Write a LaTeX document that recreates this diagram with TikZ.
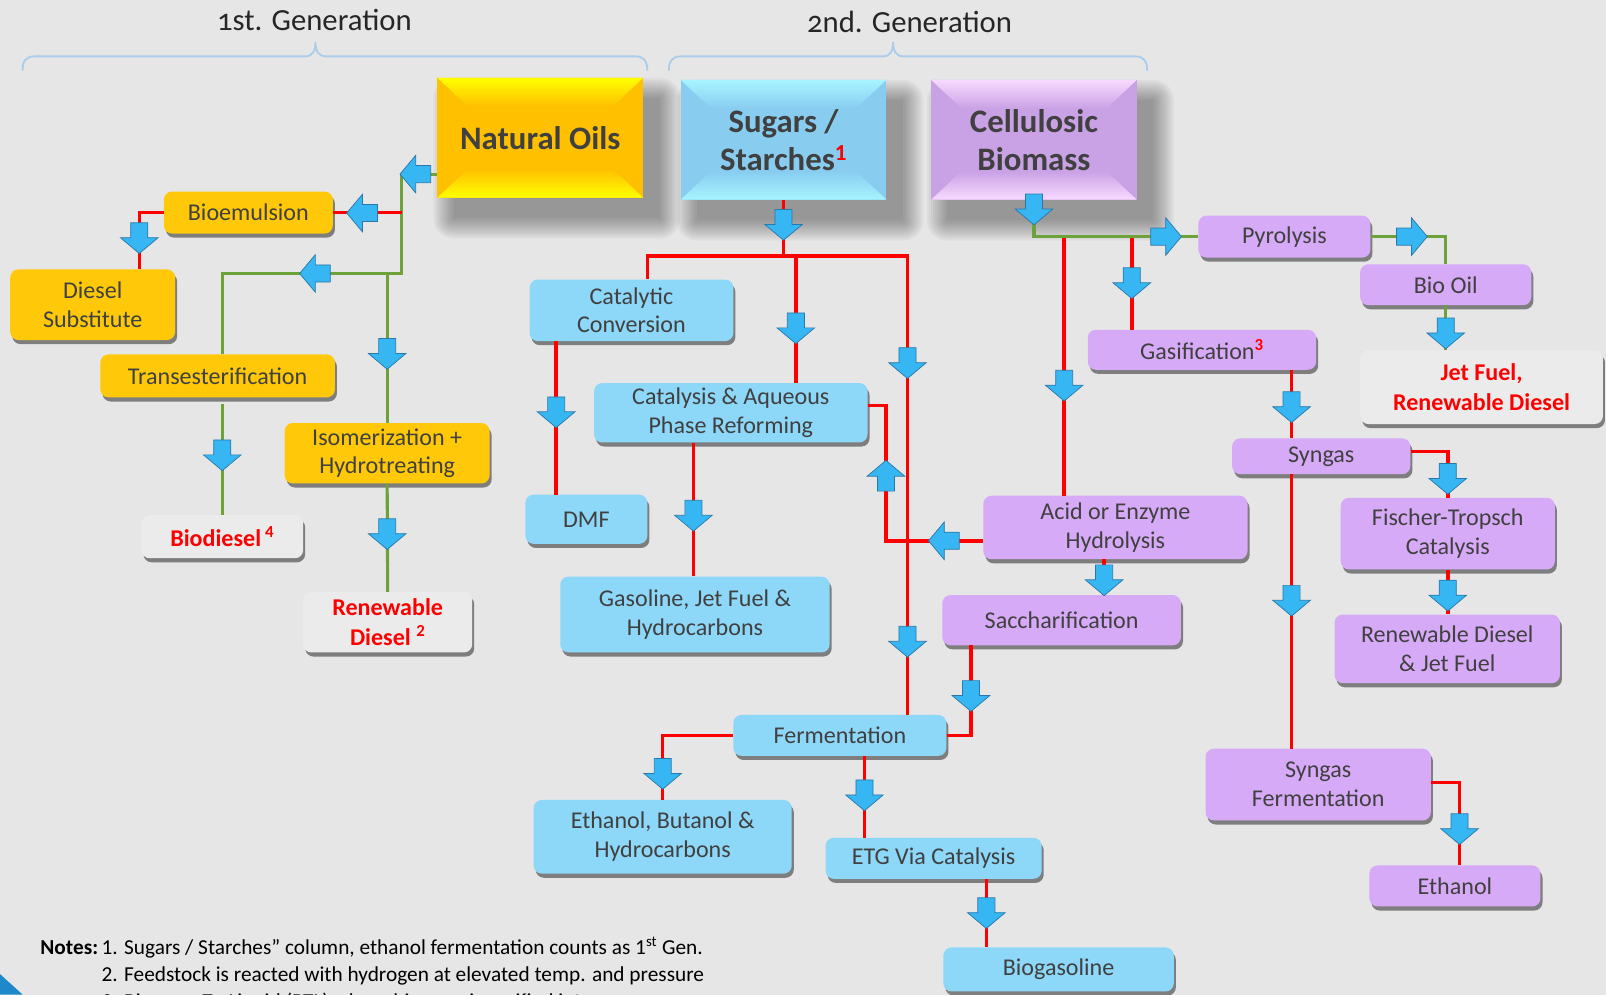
\documentclass[tikz,border=0pt]{standalone}
\usepackage{fontspec}
\setmainfont{Carlito}
\usetikzlibrary{shapes.arrows,shadows}

\definecolor{bgray}{HTML}{E6E6E6}
\definecolor{txtgray}{HTML}{404040}
\definecolor{oilyel}{HTML}{FFC90A}
\definecolor{sugblue}{HTML}{8DD7F8}
\definecolor{celpur}{HTML}{D6AAF7}
\definecolor{endgray}{HTML}{EBEBEB}
\definecolor{leafgreen}{HTML}{6DA13A}
\definecolor{arrblue}{HTML}{36B6F2}
\definecolor{arrdark}{HTML}{2A78A8}
\definecolor{bracecol}{HTML}{A9CDEB}
\definecolor{cornblue}{HTML}{1E88C8}
\definecolor{natmain}{HTML}{FFC000}
\definecolor{natlight}{HTML}{FFFF00}
\definecolor{sugmain}{HTML}{88CDF0}
\definecolor{suglight}{HTML}{A8F4FF}
\definecolor{celmain}{HTML}{C9A1E5}
\definecolor{cellight}{HTML}{F8DAFF}

\tikzset{
	sz/.style 2 args={minimum width=#1, minimum height=#2},
	box/.style={rounded corners=8pt, align=center, text=txtgray, inner sep=0pt,
		font=\fontsize{23.5}{28}\selectfont,
		drop shadow={shadow xshift=2pt, shadow yshift=-4pt, opacity=.45, fill=black}},
	oilbox/.style={box, fill=oilyel},
	sugbox/.style={box, fill=sugblue},
	celbox/.style={box, fill=celpur},
	endbox/.style={box, fill=endgray, text=red, font=\bfseries\fontsize{23.5}{30}\selectfont},
	bigbox/.style 2 args={inner sep=0pt, align=center, text=txtgray,
		font=\bfseries\fontsize{32}{37}\selectfont, minimum width=201, minimum height=117,
		fill=#2,
		path picture={
			\coordinate (pnw) at (path picture bounding box.north west);
			\coordinate (pne) at (path picture bounding box.north east);
			\coordinate (psw) at (path picture bounding box.south west);
			\coordinate (pse) at (path picture bounding box.south east);
			\fill[top color=#1, bottom color=#2] (pnw) -- (pne) -- ([xshift=-30pt,yshift=-28pt]pne) -- ([xshift=30pt,yshift=-28pt]pnw) -- cycle;
			\fill[top color=#2, bottom color=#1] (psw) -- ([xshift=30pt,yshift=28pt]psw) -- ([xshift=-30pt,yshift=28pt]pse) -- (pse) -- cycle;
		}},
	gen/.style={font=\fontsize{30}{34}\selectfont\addfontfeatures{Numbers=OldStyle}, text=black!85},
	note/.style={font=\fontsize{20.8}{24}\selectfont, text=black, inner sep=0pt},
	rline/.style={draw=red, line width=3.5pt},
	gline/.style={draw=leafgreen, line width=3pt},
	brace/.style={draw=bracecol, line width=1.8pt},
	arr/.style={single arrow, single arrow head extend=10pt, single arrow tip angle=100,
		single arrow head indent=0pt, inner xsep=0pt, inner ysep=8pt, minimum height=30pt,
		fill=arrblue, draw=arrdark, line width=.7pt},
	darr/.style={arr, rotate=-90},
	larr/.style={arr, rotate=180},
	uarr/.style={arr, rotate=90},
	rarr/.style={arr}
}

\begin{document}
\begin{tikzpicture}[x=1pt,y=-1pt]
	\useasboundingbox (0,0) rectangle (1568,971);
	\fill[bgray] (0,0) rectangle (1568,971);
	\fill[cornblue] (0,951) -- (22,971) -- (0,971) -- cycle;

	\node[gen] (gen1) at (307,20) {1st. Generation};
	\node[gen] (gen2) at (888,21) {2nd. Generation};
	\foreach \l/\m/\r in {22/308/632, 653/872/1120}
		\draw[brace] (\l,69) .. controls (\l,60) and (\l+3,55) .. (\l+12,55) -- (\m-10,55)
			.. controls (\m-3,55) and (\m,50) .. (\m,41) .. controls (\m,50) and (\m+3,55) .. (\m+10,55)
			-- (\r-12,55) .. controls (\r-3,55) and (\r,60) .. (\r,69);

	\foreach \cx/\cy in {527.5/134.5, 765/136.5, 1009.5/136.5}
		\foreach \i in {0,...,10}
			\fill[black, opacity=.035, rounded corners=\i*2pt]
				(\cx+16-100.5-\i*2,\cy+20-58.5-\i*2) rectangle (\cx+16+100.5+\i*2,\cy+20+58.5+\i*2);

	\node[bigbox={natlight}{natmain}] (nat) at (527.5,134.5) {Natural Oils};
	\node[bigbox={suglight}{sugmain}] (sug) at (765,136.5) {Sugars /\\Starches\textcolor{red}{\textsuperscript{1}}};
	\node[bigbox={cellight}{celmain}] (cel) at (1009.5,136.5) {Cellulosic\\Biomass};

	\node[oilbox, sz={165}{41}] (bio) at (242.5,207.5) {Bioemulsion};
	\node[oilbox, sz={161}{69}] (dsub) at (90.5,297.5) {Diesel\\Substitute};
	\node[oilbox, sz={229}{42}] (trans) at (212.5,367) {Transesterification};
	\node[oilbox, sz={200}{59}] (iso) at (378,442.5) {Isomerization +\\Hydrotreating};
	\node[endbox, sz={158}{42}] (biod) at (217,524) {Biodiesel\,\textsuperscript{4}};
	\node[endbox, sz={165}{59}] (rdsl) at (378.5,607.5) {Renewable\\Diesel \textsuperscript{2}};
	\node[endbox, sz={237}{72}] (jet) at (1446.5,378) {Jet Fuel,\\Renewable Diesel};

	\node[sugbox, sz={199}{60}] (catc) at (616.5,303) {Catalytic\\Conversion};
	\node[sugbox, sz={267}{58}] (apr) at (713.5,403) {Catalysis \& Aqueous\\Phase Reforming};
	\node[sugbox, sz={119}{48}] (dmf) at (572.5,507) {DMF};
	\node[sugbox, sz={263}{74}] (gaso) at (678.5,600) {Gasoline, Jet Fuel \&\\Hydrocarbons};
	\node[sugbox, sz={208}{40}] (ferm) at (820,718) {Fermentation};
	\node[sugbox, sz={252}{72}] (ebh) at (647,817) {Ethanol, Butanol \&\\Hydrocarbons};
	\node[sugbox, sz={211}{40}] (etg) at (911.5,838) {ETG Via Catalysis};
	\node[sugbox, sz={225}{43}] (biog) at (1033.5,946.5) {Biogasoline};

	\node[celbox, sz={168}{41}] (pyr) at (1254,231) {Pyrolysis};
	\node[celbox, sz={167}{40}] (boil) at (1411.5,278) {Bio Oil};
	\node[celbox, sz={223}{39}] (gasf) at (1173.5,341.5) {Gasification\textcolor{red}{\textsuperscript{\bfseries 3}}};
	\node[celbox, sz={174}{35}] (syn) at (1290,445.5) {Syngas};
	\node[celbox, sz={258}{62}] (hyd) at (1089,515) {Acid or Enzyme\\Hydrolysis};
	\node[celbox, sz={209}{70}] (ft) at (1413.5,521) {Fischer-Tropsch\\Catalysis};
	\node[celbox, sz={233}{49}] (sac) at (1036.5,605.5) {Saccharification};
	\node[celbox, sz={220}{67}] (rdjf) at (1413,633.5) {Renewable Diesel\\\& Jet Fuel};
	\node[celbox, sz={220}{70}] (sfer) at (1287,766) {Syngas\\Fermentation};
	\node[celbox, sz={167}{40}] (eth) at (1420.5,865) {Ethanol};

	\coordinate (g1) at (392,170);
	\coordinate (g2) at (392,267);
	\draw[gline] ([yshift=-35.5pt]nat.west) -- (g1) -- (g2) -| (biod.north |- trans.north);
	\draw[gline] (iso.north |- g2) -- (iso.north);
	\draw[rline] (g1 |- bio.east) -- (bio.east);
	\draw[rline] (bio.west) -| ([xshift=45.5pt]dsub.north);
	\draw[gline] ([yshift=-6pt]biod.north |- trans.south) -- (biod.north);
	\draw[gline] (iso.south) -- (rdsl.north);

	\coordinate (sj) at (765,250);
	\draw[rline] (sug.south) -- (sj);
	\draw[rline] ([xshift=15.5pt]catc.north) |- ([xshift=66pt]ferm.north |- sj) -- ([xshift=66pt]ferm.north);
	\draw[rline] ([xshift=63.5pt]apr.north) -- ([xshift=63.5pt]apr.north |- sj);
	\draw[rline] ([xshift=-73.5pt]catc.south) -- ([xshift=-73.5pt]catc.south |- dmf.north);
	\draw[rline] ([xshift=-36.5pt]apr.south) -- ([xshift=-36.5pt]apr.south |- gaso.north);
	\draw[rline] ([yshift=7pt]apr.east) -- ++(18,0) |- ([yshift=-13pt]hyd.west);
	\draw[rline] (ferm.west) -| (ebh.north);
	\draw[rline] ([xshift=24pt]ferm.south) -- ([xshift=24pt]ferm.south |- etg.north);
	\draw[rline] (ferm.east) -| ([xshift=-88.5pt]sac.south);
	\draw[rline] ([xshift=-11pt]hyd.south) -- ([xshift=-11pt]hyd.south |- sac.north);
	\draw[rline] ([xshift=51.5pt]etg.south) -- ([xshift=51.5pt]etg.south |- biog.north);

	\draw[rline] ([xshift=-50pt]hyd.north) -- ([xshift=-50pt]hyd.north |- pyr.west);
	\draw[rline] ([xshift=-68.5pt]gasf.north) -- ([xshift=-68.5pt]gasf.north |- pyr.west);
	\draw[gline] (cel.south) |- (pyr.west);
	\draw[gline] (pyr.east) -| (boil.north);
	\draw[gline] (boil.south) -- (boil.south |- jet.north);
	\draw[rline] ([xshift=87.5pt]gasf.south) -- ([xshift=87.5pt]gasf.south |- syn.north);
	\draw[rline] ([xshift=-29pt]syn.south) -- ([xshift=-29pt]syn.south |- sfer.north);
	\draw[rline] ([yshift=4.5pt]syn.east) -| (ft.north);
	\draw[rline] (ft.south) -- (ft.south |- rdjf.north);
	\draw[rline] ([yshift=2pt]sfer.east) -| ([xshift=4.5pt]eth.north);

	\foreach \p [count=\i] in {(136,229),(217,441),(378,342),(378,518),(765,216),(777,317),
		(886,351),(886,623),(543,399),(677,500),(1009.5,201),(1039,373),(1105,273),(1411.5,322),
		(1261,394),(1413.5,464),(1261,583),(1413.5,578),(1078,563),(948,676),(647,752),
		(844,773),(963,888),(1425,806)}
		\node[darr] (d\i) at \p {};
	\foreach \p [count=\i] in {(409,170),(357,208),(311,267),(925,528)}
		\node[larr] (l\i) at \p {};
	\node[uarr] (u1) at (865,468) {};
	\node[rarr] (r1) at (1135,231) {};
	\node[rarr] (r2) at (1375,231) {};

	\node[note, font=\bfseries\fontsize{20.8}{24}\selectfont, anchor=base east] (nlab) at (96,932) {Notes:};
	\node[note, anchor=base west] (n1) at (99,932) {1. Sugars / Starches” column, ethanol fermentation counts as 1\textsuperscript{st} Gen.};
	\node[note, anchor=base west] (n2) at (99,958) {2. Feedstock is reacted with hydrogen at elevated temp. and pressure};
	\node[note, anchor=base west] (n3) at (99,985) {3. Biomass-To-Liquid (BTL) where biomass is gasified into};
\end{tikzpicture}
\end{document}
